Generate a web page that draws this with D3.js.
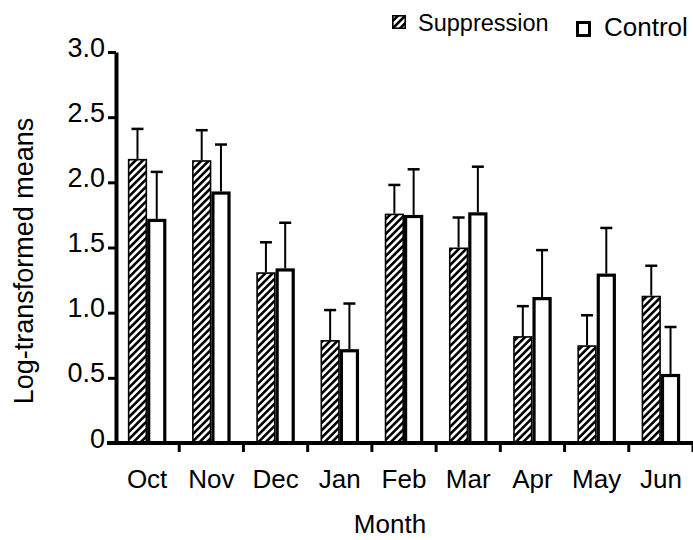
<!DOCTYPE html>
<html>
<head>
<meta charset="utf-8">
<script src="https://cdn.jsdelivr.net/npm/d3@7"></script>
<style>
  body { margin: 0; background: #fff; }
  text { font-family: "Liberation Sans", Arial, Helvetica, sans-serif; fill: #000; }
</style>
</head>
<body>
<div id="chart"></div>
<script>
var months = ["Oct", "Nov", "Dec", "Jan", "Feb", "Mar", "Apr", "May", "Jun"]
var series = ["Suppression", "Control"]
var suppression = [2.18, 2.17, 1.31, 0.79, 1.76, 1.50, 0.82, 0.75, 1.13]
var suppressionErr = [0.23, 0.23, 0.23, 0.23, 0.22, 0.23, 0.23, 0.23, 0.23]
var control = [1.72, 1.93, 1.34, 0.72, 1.75, 1.77, 1.12, 1.30, 0.53]
var controlErr = [0.36, 0.36, 0.35, 0.35, 0.35, 0.35, 0.36, 0.35, 0.36]
var yTicks = [0, 0.5, 1.0, 1.5, 2.0, 2.5, 3.0]

var width = 693, height = 540

var svg = d3.select("#chart").append("svg")
    .attr("width", width)
    .attr("height", height)

// hatch for the suppression bars
svg.append("defs").append("pattern")
    .attr("id", "hatch")
    .attr("patternUnits", "userSpaceOnUse")
    .attr("width", 5.2)
    .attr("height", 5.2)
    .attr("patternTransform", "rotate(45)")
    .call(function(p) {
        p.append("rect").attr("width", 5.2).attr("height", 5.2).attr("fill", "#fff")
        p.append("rect").attr("width", 2.6).attr("height", 5.2).attr("fill", "#000")
    })

var x = d3.scaleBand().domain(months).range([115, 693]).paddingInner(0.4).paddingOuter(0.2)
var xs = d3.scaleBand().domain(series).range([0, x.bandwidth()])
var y = d3.scaleLinear().domain([0, 3]).range([443, 52])

var rows = months.map(function(m, i) {
    return [
        { month: m, key: "Suppression", v: suppression[i], e: suppressionErr[i] },
        { month: m, key: "Control", v: control[i], e: controlErr[i] }
    ]
})
var flat = d3.merge(rows)

// error bars (upper only)
var eb = svg.append("g").selectAll("g")
    .data(flat)
    .enter().append("g")
eb.append("line")
    .attr("x1", function(d) { return x(d.month) + xs(d.key) + xs.bandwidth() / 2 })
    .attr("x2", function(d) { return x(d.month) + xs(d.key) + xs.bandwidth() / 2 })
    .attr("y1", function(d) { return y(d.v) })
    .attr("y2", function(d) { return y(d.v + d.e) })
    .attr("stroke", "#000")
    .attr("stroke-width", 2)
eb.append("line")
    .attr("x1", function(d) { return x(d.month) + xs(d.key) + xs.bandwidth() / 2 - 6 })
    .attr("x2", function(d) { return x(d.month) + xs(d.key) + xs.bandwidth() / 2 + 6 })
    .attr("y1", function(d) { return y(d.v + d.e) })
    .attr("y2", function(d) { return y(d.v + d.e) })
    .attr("stroke", "#000")
    .attr("stroke-width", 2.5)

// bars
function sw(d) { return d.key == "Control" ? 3.2 : 1.6 }
svg.append("g").selectAll("rect")
    .data(flat)
    .enter().append("rect")
    .attr("x", function(d) { return x(d.month) + xs(d.key) + sw(d) / 2 })
    .attr("y", function(d) { return y(d.v) + sw(d) / 2 })
    .attr("width", function(d) { return xs.bandwidth() - sw(d) })
    .attr("height", function(d) { return y(0) - y(d.v) - sw(d) / 2 })
    .attr("fill", function(d) { return d.key == "Control" ? "#fff" : "url(#hatch)" })
    .attr("stroke", "#000")
    .attr("stroke-width", sw)

// y axis
var yAxis = svg.append("g")
    .attr("transform", "translate(116,0)")
    .call(d3.axisLeft(y).tickValues(yTicks).tickSize(8).tickSizeOuter(0).tickPadding(3)
        .tickFormat(function(d) { return d == 0 ? "0" : d3.format(".1f")(d) }))
yAxis.select(".domain").attr("stroke-width", 4)
yAxis.selectAll(".tick line").attr("stroke-width", 3)
yAxis.selectAll(".tick text")
    .attr("font-size", 27)
    .attr("font-family", "Liberation Sans, Arial, sans-serif")
    .attr("dy", "0.15em")

// x axis: line + boundary ticks + labels
var bounds = months.map(function(m) { return x(m) - x.step() * x.paddingInner() / 2 })
bounds.push(x(months[months.length - 1]) + x.bandwidth() + x.step() * x.paddingOuter())
svg.append("line")
    .attr("x1", 107).attr("x2", bounds[bounds.length - 1])
    .attr("y1", y(0)).attr("y2", y(0))
    .attr("stroke", "#000").attr("stroke-width", 4)
svg.append("g").selectAll("line")
    .data(bounds.slice(1))
    .enter().append("line")
    .attr("x1", function(d) { return d }).attr("x2", function(d) { return d })
    .attr("y1", y(0)).attr("y2", y(0) + 9)
    .attr("stroke", "#000").attr("stroke-width", 3)

var xAxis = svg.append("g")
    .attr("transform", "translate(0," + y(0) + ")")
    .call(d3.axisBottom(x).tickSize(0).tickPadding(27))
xAxis.select(".domain").remove()
xAxis.selectAll(".tick text")
    .attr("font-size", 26)
    .attr("font-family", "Liberation Sans, Arial, sans-serif")

// axis titles
svg.append("text")
    .attr("transform", "translate(33,261) rotate(-90)")
    .attr("text-anchor", "middle")
    .attr("font-size", 27)
    .text("Log-transformed means")

svg.append("text")
    .attr("x", 390)
    .attr("y", 533)
    .attr("text-anchor", "middle")
    .attr("font-size", 26)
    .text("Month")

// legend
var legend = svg.append("g")
legend.append("rect")
    .attr("x", 392.8).attr("y", 15.8).attr("width", 12.4).attr("height", 12.4)
    .attr("fill", "url(#hatch)").attr("stroke", "#000").attr("stroke-width", 1.6)
legend.append("text")
    .attr("x", 418).attr("y", 31)
    .attr("font-size", 23.5)
    .text("Suppression")
legend.append("rect")
    .attr("x", 577.5).attr("y", 22.5).attr("width", 12).attr("height", 13)
    .attr("fill", "#fff").attr("stroke", "#000").attr("stroke-width", 3)
legend.append("text")
    .attr("x", 604).attr("y", 36)
    .attr("font-size", 26)
    .text("Control")
</script>
</body>
</html>
